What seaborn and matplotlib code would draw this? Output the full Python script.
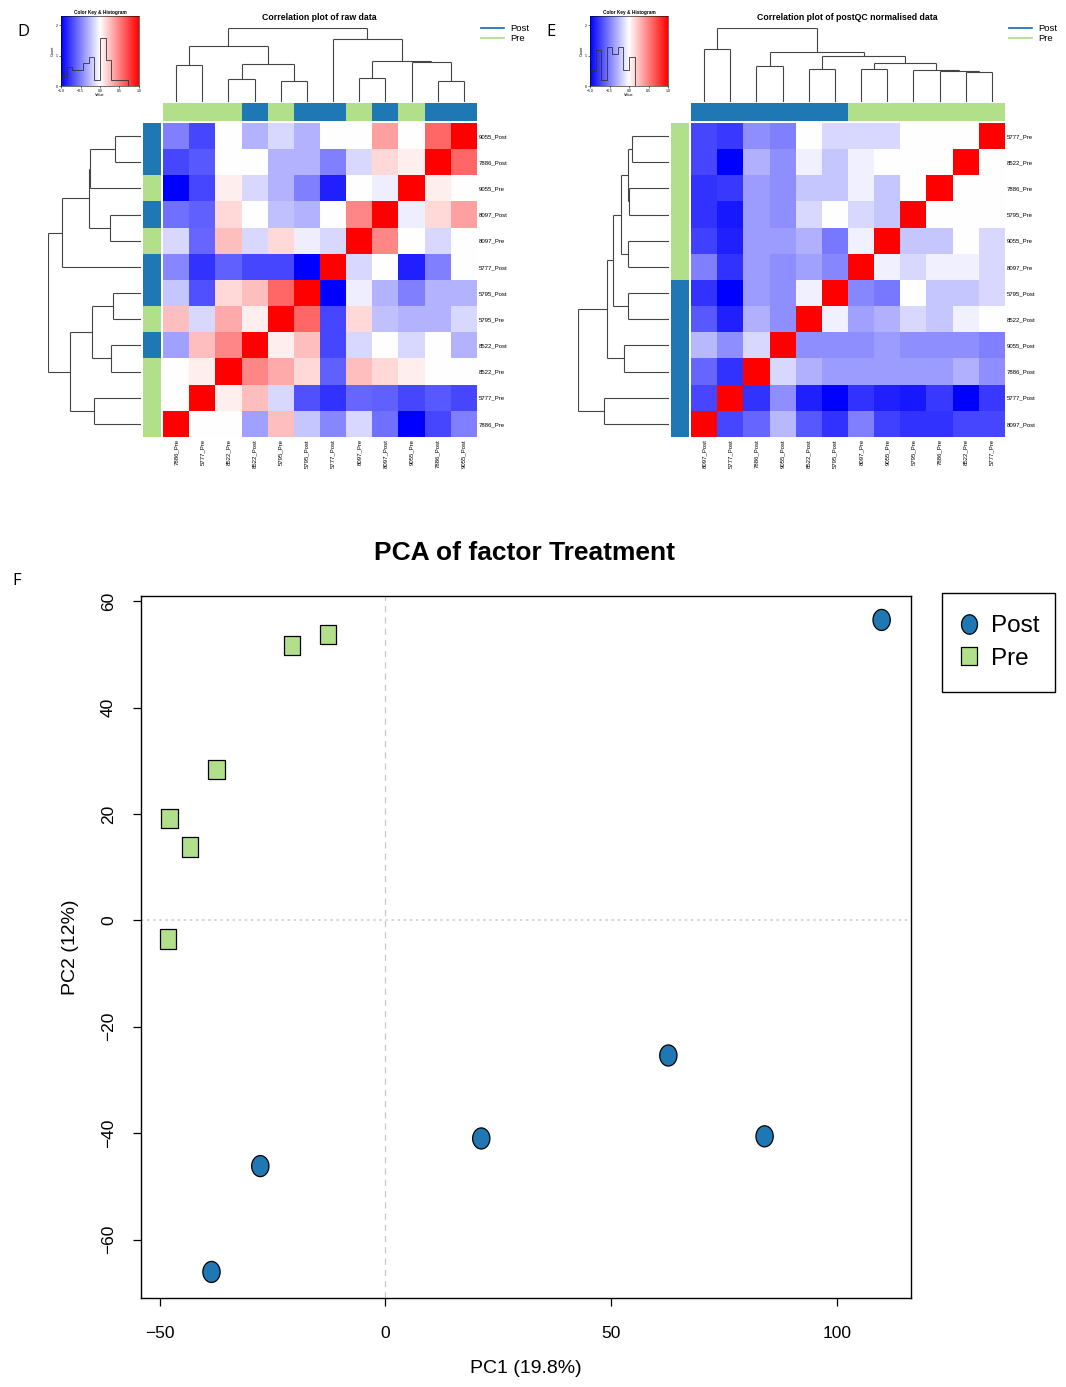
import numpy as np
import pandas as pd
import matplotlib
matplotlib.use("Agg")
import matplotlib.pyplot as plt
from matplotlib.colors import ListedColormap
from matplotlib.lines import Line2D
from matplotlib.patches import Rectangle
from matplotlib.path import Path
import seaborn as sns

plt.rcParams['font.family'] = ['Liberation Sans', 'DejaVu Sans']

# ---------------------------------------------------------------- data
POST_COLOR = "#1f78b4"
PRE_COLOR = "#b2df8a"

# Panel D: correlation of raw data (rows listed top to bottom)
raw_rows = ["9055_Post", "7886_Post", "9055_Pre", "8097_Post", "8097_Pre", "5777_Post",
            "5795_Post", "5795_Pre", "8522_Post", "8522_Pre", "5777_Pre", "7886_Pre"]
raw_cols = raw_rows[::-1]
raw_corr = [
    [-0.50, -0.72, 0.00, -0.30, -0.15, -0.30, 0.00, 0.00, 0.37, 0.00, 0.60, 1.00],
    [-0.72, -0.65, 0.00, 0.00, -0.30, -0.30, -0.50, -0.15, 0.15, 0.07, 1.00, 0.60],
    [-1.00, -0.72, 0.07, -0.15, -0.30, -0.50, -0.87, 0.00, -0.07, 1.00, 0.07, 0.00],
    [-0.56, -0.62, 0.15, 0.00, -0.25, -0.30, 0.00, 0.47, 1.00, -0.07, 0.15, 0.37],
    [-0.15, -0.60, 0.25, -0.15, 0.15, -0.07, -0.15, 1.00, 0.47, 0.00, -0.15, 0.00],
    [-0.47, -0.80, -0.62, -0.72, -0.72, -1.00, 1.00, -0.15, 0.00, -0.87, -0.50, 0.00],
    [-0.22, -0.68, 0.15, 0.25, 0.60, 1.00, -1.00, -0.07, -0.30, -0.50, -0.30, -0.30],
    [0.25, -0.15, 0.33, 0.07, 1.00, 0.60, -0.72, 0.15, -0.25, -0.30, -0.30, -0.15],
    [-0.37, 0.25, 0.47, 1.00, 0.07, 0.25, -0.72, -0.15, 0.00, -0.15, 0.00, -0.30],
    [0.00, 0.07, 1.00, 0.47, 0.33, 0.15, -0.62, 0.25, 0.15, 0.07, 0.00, 0.00],
    [0.00, 1.00, 0.07, 0.25, -0.15, -0.68, -0.80, -0.60, -0.62, -0.72, -0.65, -0.72],
    [1.00, 0.00, 0.00, -0.37, 0.25, -0.22, -0.47, -0.15, -0.56, -1.00, -0.72, -0.50],
]

# Panel E: correlation of post-QC normalised data (rows listed top to bottom)
norm_rows = ["5777_Pre", "8522_Pre", "7886_Pre", "5795_Pre", "9055_Pre", "8097_Pre",
             "5795_Post", "8522_Post", "9055_Post", "7886_Post", "5777_Post", "8097_Post"]
norm_cols = norm_rows[::-1]
norm_corr = [
    [-0.72, -0.78, -0.44, -0.50, 0.00, -0.15, -0.15, -0.15, 0.00, 0.00, 0.00, 1.00],
    [-0.72, -1.00, -0.31, -0.44, -0.06, -0.22, -0.06, 0.00, 0.00, 0.00, 1.00, 0.00],
    [-0.80, -0.78, -0.39, -0.44, -0.22, -0.22, -0.06, -0.22, 0.00, 1.00, 0.00, 0.00],
    [-0.80, -0.90, -0.39, -0.44, -0.15, 0.00, -0.15, -0.22, 1.00, 0.00, 0.00, 0.00],
    [-0.75, -0.87, -0.39, -0.39, -0.31, -0.53, -0.06, 1.00, -0.22, -0.22, 0.00, -0.15],
    [-0.50, -0.80, -0.39, -0.44, -0.37, -0.47, 1.00, -0.06, -0.15, -0.06, -0.06, -0.15],
    [-0.80, -1.00, -0.39, -0.44, -0.06, 1.00, -0.47, -0.53, 0.00, -0.22, -0.22, -0.15],
    [-0.65, -0.87, -0.31, -0.44, 1.00, -0.06, -0.37, -0.31, -0.15, -0.22, -0.06, 0.00],
    [-0.28, -0.44, -0.15, 1.00, -0.44, -0.44, -0.44, -0.39, -0.44, -0.44, -0.44, -0.50],
    [-0.60, -0.80, 1.00, -0.15, -0.31, -0.39, -0.39, -0.39, -0.39, -0.39, -0.31, -0.44],
    [-0.72, 1.00, -0.80, -0.44, -0.87, -1.00, -0.80, -0.87, -0.90, -0.78, -1.00, -0.78],
    [1.00, -0.72, -0.60, -0.28, -0.65, -0.80, -0.50, -0.75, -0.80, -0.80, -0.72, -0.72],
]

# Dendrograms as nested (left, right, height); integers are leaf positions
raw_col_tree = (((0, 1, 0.50), ((2, 3, 0.31), (4, 5, 0.29), 0.52), 0.76),
                (6, ((7, 8, 0.32), (9, (10, 11, 0.28), 0.54), 0.56), 0.85), 1.0)
raw_row_tree = ((((((0, 1, 0.28), 2, 0.55), (3, 4, 0.33), 0.56), 5, 0.85)),
                (((6, 7, 0.30), (8, 9, 0.32), 0.53), (10, 11, 0.51), 0.76), 1.0)
norm_col_tree = ((0, 1, 0.71),
                 ((2, 3, 0.48),
                  ((4, 5, 0.44),
                   ((6, 7, 0.44), (8, (9, (10, 11, 0.41), 0.42), 0.43), 0.53), 0.62), 0.68), 1.0)
norm_row_tree = (((((((0, 1, 0.41), (2, 3, 0.44), 0.45), (4, 5, 0.45), 0.53),
                    (6, 7, 0.45), 0.62), (8, 9, 0.49), 0.68)), (10, 11, 0.71), 1.0)

# Panel F: PCA scores
post_pc1 = [109.8, 62.6, 21.2, 83.9, -27.7, -38.5]
post_pc2 = [56.5, -25.4, -41.0, -40.6, -46.2, -66.1]
pre_pc1 = [-12.8, -20.6, -37.4, -47.8, -43.2, -48.1]
pre_pc2 = [53.8, 51.7, 28.4, 19.1, 13.8, -3.5]

# ---------------------------------------------------------------- helpers
W, H = 1066, 1387
fig = plt.figure(figsize=(W / 100, H / 100), dpi=100)


def box(x0, y0, x1, y1):
    """Axes rectangle from pixel corners (top-left origin)."""
    return [x0 / W, 1 - y1 / H, (x1 - x0) / W, (y1 - y0) / H]


def draw_tree(ax, node, horizontal, color="#444444", lw=0.8):
    if isinstance(node, int):
        return node + 0.5, 0.0
    left, right, h = node
    pa, ha = draw_tree(ax, left, horizontal, color, lw)
    pb, hb = draw_tree(ax, right, horizontal, color, lw)
    segs = [((pa, ha), (pa, h)), ((pb, hb), (pb, h)), ((pa, h), (pb, h))]
    for (p0, h0), (p1, h1) in segs:
        if horizontal:
            ax.plot([p0, p1], [h0, h1], color=color, lw=lw, solid_capstyle="butt")
        else:
            ax.plot([h0, h1], [p0, p1], color=color, lw=lw, solid_capstyle="butt")
    return (pa + pb) / 2, h


def group_codes(labels):
    return np.array([0 if lab.endswith("Post") else 1 for lab in labels])


side_cmap = ListedColormap([POST_COLOR, PRE_COLOR])


def corr_panel(x0, rows, cols, corr, col_tree, row_tree, row_dendro_left, title, key_x0, tag):
    mat = pd.DataFrame(corr, index=rows, columns=cols)
    hx0, hx1, hy0, hy1 = x0, x0 + 314, 123, 437

    ax = fig.add_axes(box(hx0, hy0, hx1, hy1))
    sns.heatmap(mat, cmap="bwr", vmin=-1, vmax=1, cbar=False, ax=ax,
                xticklabels=True, yticklabels=True)
    ax.yaxis.tick_right()
    ax.tick_params(length=0, labelsize=4.3, pad=1.5)
    ax.set_yticklabels(rows, rotation=0, fontsize=4.3)
    ax.set_xticklabels(cols, rotation=90, fontsize=4.3)
    ax.set_xlabel("")
    ax.set_ylabel("")

    # group side bars
    axc = fig.add_axes(box(hx0, 103, hx1, 121))
    sns.heatmap(group_codes(cols)[None, :], cmap=side_cmap, vmin=0, vmax=1, cbar=False,
                ax=axc, xticklabels=False, yticklabels=False)
    axr = fig.add_axes(box(hx0 - 20, hy0, hx0 - 2, hy1))
    sns.heatmap(group_codes(rows)[:, None], cmap=side_cmap, vmin=0, vmax=1, cbar=False,
                ax=axr, xticklabels=False, yticklabels=False)

    # dendrograms
    axdc = fig.add_axes(box(hx0, 28, hx1, 102))
    draw_tree(axdc, col_tree, horizontal=True)
    axdc.set_xlim(0, 12)
    axdc.set_ylim(0, 1.0)
    axdc.axis("off")

    axdr = fig.add_axes(box(row_dendro_left, hy0, hx0 - 22, hy1))
    draw_tree(axdr, row_tree, horizontal=False)
    axdr.set_ylim(12, 0)
    axdr.set_xlim(1.0, 0)
    axdr.axis("off")

    # colour key with histogram
    axk = fig.add_axes(box(key_x0, 16, key_x0 + 78, 86))
    grad = np.linspace(-1, 1, 256)[None, :]
    vals = np.array(corr)
    offdiag = vals[np.fliplr(np.triu(np.ones_like(vals), 1)).astype(bool)]
    axk.imshow(grad, cmap="bwr", vmin=-1, vmax=1, aspect="auto", extent=[-1, 1, 0, 2.3])
    axk.hist(offdiag, bins=np.linspace(-1, 1, 15), density=True, histtype="step",
             color="#333333", lw=0.6)
    axk.set_xlim(-1, 1)
    axk.set_ylim(0, 2.3)
    axk.set_xticks([-1, -0.5, 0, 0.5, 1])
    axk.set_yticks([0, 1, 2])
    axk.tick_params(labelsize=2.5, length=1.2, width=0.4, pad=0.8)
    for sp in axk.spines.values():
        sp.set_linewidth(0.4)
    axk.set_title("Color Key & Histogram", fontsize=3.4, fontweight="bold", pad=1.5)
    axk.set_ylabel("Count", fontsize=2.8, labelpad=1)
    axk.set_xlabel("Value", fontsize=2.8, labelpad=0.5)

    # title, legend and panel tag
    fig.text((hx0 + 156) / W, 1 - 17 / H, title, ha="center", va="center",
             fontsize=6.3, fontweight="bold")
    handles = [Line2D([], [], color=POST_COLOR, lw=1.3), Line2D([], [], color=PRE_COLOR, lw=1.3)]
    fig.legend(handles, ["Post", "Pre"], loc="upper left",
               bbox_to_anchor=((hx0 + 318) / W, 1 - 24 / H), frameon=False, fontsize=6.8,
               handlelength=2.4, labelspacing=0.15, borderaxespad=0, borderpad=0,
               handletextpad=0.7)
    fig.text((key_x0 - 44) / W, 1 - 32 / H, tag, ha="left", va="center", fontsize=12,
             family=["Open Sans", "DejaVu Sans"])


corr_panel(163, raw_rows, raw_cols, raw_corr, raw_col_tree, raw_row_tree, 48,
           "Correlation plot of raw data", 61, "D")
corr_panel(691, norm_rows, norm_cols, norm_corr, norm_col_tree, norm_row_tree, 578,
           "Correlation plot of postQC normalised data", 590, "E")

# ---------------------------------------------------------------- PCA panel
pca = pd.DataFrame({
    "PC1": post_pc1 + pre_pc1,
    "PC2": post_pc2 + pre_pc2,
    "Treatment": ["Post"] * len(post_pc1) + ["Pre"] * len(pre_pc1),
})

t = np.linspace(0, 2 * np.pi, 60)
oval = Path(np.column_stack([0.82 * np.cos(t), np.sin(t)]), closed=True)
tall_square = Path([(-0.84, -1), (0.84, -1), (0.84, 1), (-0.84, 1), (-0.84, -1)], closed=True)

axp = fig.add_axes(box(141, 596, 911, 1298))
axp.axvline(0, color="#c8c8c8", ls=(0, (5, 4)), lw=0.9, zorder=0)
axp.axhline(0, color="#c8c8c8", ls=(0, (1.5, 2.5)), lw=1.1, zorder=0)
sns.scatterplot(data=pca, x="PC1", y="PC2", hue="Treatment", style="Treatment",
                size="Treatment", sizes={"Post": 230, "Pre": 190},
                palette={"Post": POST_COLOR, "Pre": PRE_COLOR},
                markers={"Post": oval, "Pre": tall_square},
                edgecolor="black", linewidth=0.9, legend=False, ax=axp, zorder=3)
axp.set_xlim(-54.1, 116.3)
axp.set_ylim(-71.0, 61.0)
axp.set_xticks([-50, 0, 50, 100])
axp.set_yticks([-60, -40, -20, 0, 20, 40, 60])
for sp in axp.spines.values():
    sp.set_linewidth(1.0)
    sp.set_color("black")
axp.tick_params(axis="both", direction="out", length=6, width=0.9, labelsize=12.5)
axp.tick_params(axis="x", pad=14)
axp.tick_params(axis="y", pad=12)
for lab in axp.get_yticklabels():
    lab.set_rotation(90)
    lab.set_va("center")
axp.set_xlabel("PC1 (19.8%)", fontsize=14, labelpad=14)
axp.set_ylabel("PC2 (12%)", fontsize=14, labelpad=16)

# legend: boxed key to the right of the plot
lx0, ly0, lx1, ly1 = 942, 593, 1055, 692
fig.add_artist(Rectangle((lx0 / W, 1 - ly1 / H), (lx1 - lx0) / W, (ly1 - ly0) / H,
                         transform=fig.transFigure, fill=False, edgecolor="black", lw=1.0))
leg_handles = [
    Line2D([], [], ls="none", marker=oval, markersize=14, markerfacecolor=POST_COLOR,
           markeredgecolor="black", markeredgewidth=0.9),
    Line2D([], [], ls="none", marker=tall_square, markersize=13, markerfacecolor=PRE_COLOR,
           markeredgecolor="black", markeredgewidth=0.9),
]
axp.legend(leg_handles, ["Post", "Pre"], loc="center",
           bbox_to_anchor=((lx0 + lx1) / 2 / W, 1 - (ly0 + ly1) / 2 / H),
           bbox_transform=fig.transFigure, frameon=False, fontsize=17.5,
           handlelength=0.9, handletextpad=0.45, labelspacing=0.45, borderpad=0,
           borderaxespad=0)

fig.text(525 / W, 1 - 553 / H, "PCA of factor Treatment", ha="center", va="center",
         fontsize=19, fontweight="bold")
fig.text(12 / W, 1 - 581 / H, "F", ha="left", va="center", fontsize=12,
         family=["Open Sans", "DejaVu Sans"])

fig.savefig("out.png", dpi=100)
